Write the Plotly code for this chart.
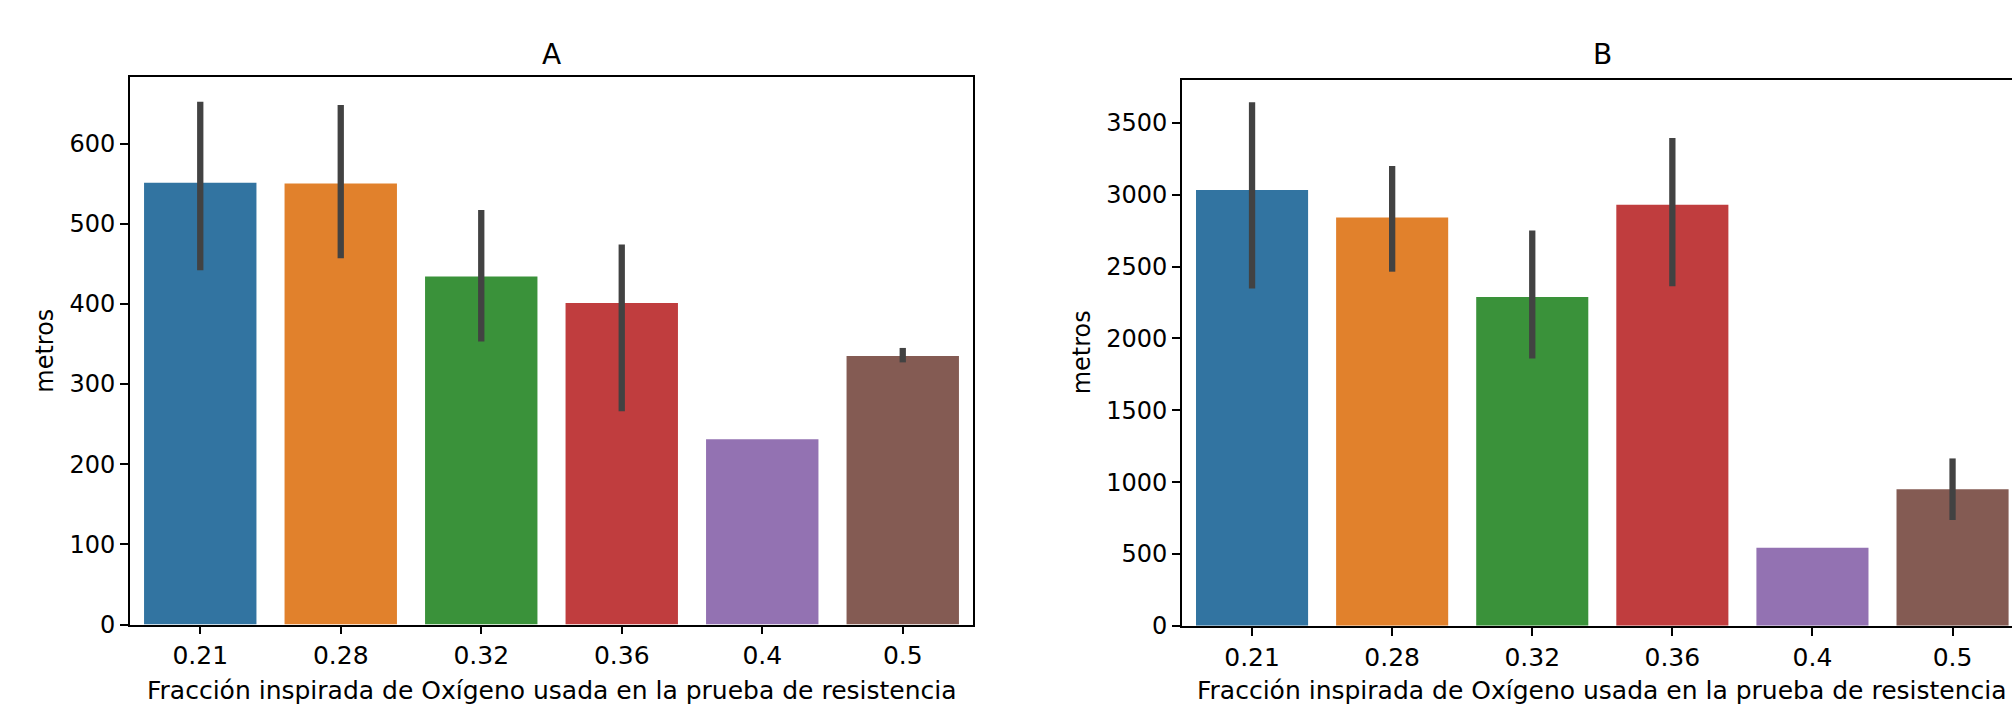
import plotly.graph_objects as go

categories = ["0.21", "0.28", "0.32", "0.36", "0.4", "0.5"]
colors = ["#3274a1", "#e1812c", "#3a923a", "#c03d3e", "#9372b2", "#845b53"]

# Panel A
a_mean = [551, 550, 434, 401, 231, 335]
a_lo = [442, 457, 353, 266, 231, 327]
a_hi = [652, 648, 517, 474, 231, 345]

# Panel B
b_mean = [3034, 2842, 2288, 2930, 544, 950]
b_lo = [2348, 2465, 1860, 2364, 544, 737]
b_hi = [3645, 3201, 2751, 3396, 544, 1165]

W, H = 2012, 709
FONT = "DejaVu Sans"
FS = 24
FSX = 25

def px_x(p):
    return p / W

def px_y(p):
    return 1 - p / H

fig = go.Figure()

for mean, lo, hi, xa, ya in [(a_mean, a_lo, a_hi, "x", "y"), (b_mean, b_lo, b_hi, "x2", "y2")]:
    fig.add_trace(go.Bar(
        x=categories, y=mean, xaxis=xa, yaxis=ya,
        marker=dict(color=colors, line=dict(width=0)),
        width=0.8,
        error_y=dict(type="data", symmetric=False,
                     array=[h - m for h, m in zip(hi, mean)],
                     arrayminus=[m - l for m, l in zip(mean, lo)],
                     color="#424242", thickness=6.3, width=0),
        showlegend=False,
        hoverinfo="skip",
    ))

axis_common = dict(
    showline=True, linecolor="black", linewidth=1.9,
    ticks="outside", ticklen=8, tickwidth=1.9, tickcolor="black",
    showgrid=False, zeroline=False, automargin=False,
)
xfont = dict(family=FONT, size=FSX, color="black")
yfont = dict(family=FONT, size=FS, color="black")

a_left, a_right, a_top, a_bot = 130, 973, 77, 624.5
b_left, b_top, b_bot = 1182, 79.6, 625.8
b_spacing = 140.1
b_right_range = -0.5 + (W - b_left) / b_spacing

fig.update_layout(
    width=W, height=H,
    margin=dict(l=0, r=0, t=0, b=0, autoexpand=False),
    paper_bgcolor="white", plot_bgcolor="white",
    bargap=0.2,
    xaxis=dict(domain=[px_x(a_left), px_x(a_right)], anchor="y", type="category",
               range=[-0.5, 5.5], mirror=True, tickfont=xfont, **axis_common),
    yaxis=dict(domain=[px_y(a_bot), px_y(a_top)], anchor="x", range=[0, 683],
               dtick=100, tick0=0, mirror=True, tickfont=yfont, **axis_common),
    xaxis2=dict(domain=[px_x(b_left), 1.0], anchor="y2", type="category",
                range=[-0.5, b_right_range], mirror=True, tickfont=xfont, **axis_common),
    yaxis2=dict(domain=[px_y(b_bot), px_y(b_top)], anchor="x2", range=[0, 3802],
                dtick=500, tick0=0, mirror=False, tickfont=yfont, **axis_common),
)

annots = [
    dict(text="A", x=px_x((a_left + a_right) / 2), y=px_y(55), size=28),
    dict(text="B", x=px_x(1602), y=px_y(55), size=28),
    dict(text="Fracción inspirada de Oxígeno usada en la prueba de resistencia",
         x=px_x((a_left + a_right) / 2), y=px_y(690), size=FSX),
    dict(text="Fracción inspirada de Oxígeno usada en la prueba de resistencia",
         x=px_x(1602), y=px_y(690), size=FSX),
]
for a in annots:
    fig.add_annotation(text=a["text"], x=a["x"], y=a["y"], xref="paper", yref="paper",
                       xanchor="center", yanchor="middle", showarrow=False,
                       font=dict(family=FONT, size=a["size"], color="black"))

for xc, yc in [(45, (a_top + a_bot) / 2), (1081.6, (b_top + b_bot) / 2)]:
    fig.add_annotation(text="metros", x=px_x(xc), y=px_y(yc), xref="paper", yref="paper",
                       xanchor="center", yanchor="middle", showarrow=False, textangle=-90,
                       font=dict(family=FONT, size=FS, color="black"))

fig.write_html("out.html",
               config={"displayModeBar": False},
               post_script="document.body.style.margin='0';document.body.style.overflow='hidden';")
